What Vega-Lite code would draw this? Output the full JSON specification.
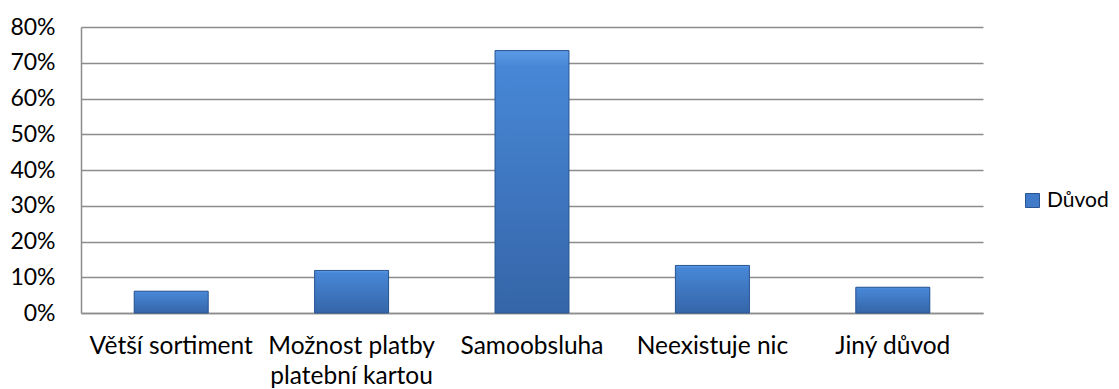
{
  "$schema": "https://vega.github.io/schema/vega-lite/v6.json",
  "autosize": {"type": "none"},
  "width": 902,
  "height": 286,
  "padding": {"left": 81, "top": 27, "right": 136, "bottom": 76},
  "background": "white",
  "config": {
    "font": "Lato",
    "view": {"stroke": null},
    "axis": {"labelFont": "Lato", "labelColor": "#000000"},
    "legend": {"labelFont": "Lato", "labelColor": "#000000"}
  },
  "data": {
    "values": [
      {"kategorie": "Větší sortiment", "podil": 0.061, "serie": "Důvod"},
      {"kategorie": "Možnost platby platební kartou", "podil": 0.119, "serie": "Důvod"},
      {"kategorie": "Samoobsluha", "podil": 0.734, "serie": "Důvod"},
      {"kategorie": "Neexistuje nic", "podil": 0.133, "serie": "Důvod"},
      {"kategorie": "Jiný důvod", "podil": 0.072, "serie": "Důvod"}
    ]
  },
  "encoding": {
    "x": {
      "field": "kategorie",
      "type": "nominal",
      "sort": null,
      "scale": {"paddingInner": 0.59, "paddingOuter": 0.295},
      "axis": {
        "title": null,
        "labelAngle": 0,
        "labelFontSize": 24.5,
        "labelPadding": 21,
        "labelLineHeight": 30,
        "labelBaseline": "top",
        "labelOverlap": false,
        "ticks": false,
        "domainColor": "#8c8c8c",
        "domainWidth": 1.5,
        "labelLimit": 400,
        "labelExpr": "datum.label == 'Možnost platby platební kartou' ? ['Možnost platby', 'platební kartou'] : datum.label"
      }
    },
    "y": {
      "field": "podil",
      "type": "quantitative",
      "scale": {"domain": [0, 0.8], "nice": false},
      "axis": {
        "title": null,
        "format": ".0%",
        "values": [0, 0.1, 0.2, 0.3, 0.4, 0.5, 0.6, 0.7, 0.8],
        "labelFontSize": 23,
        "labelPadding": 26,
        "labelOverlap": false,
        "ticks": false,
        "grid": true,
        "gridColor": "#8c8c8c",
        "gridWidth": 1.5,
        "domainColor": "#8c8c8c",
        "domainWidth": 1.5
      }
    }
  },
  "layer": [
    {
      "mark": {"type": "bar"},
      "encoding": {
        "color": {
          "field": "serie",
          "type": "nominal",
          "scale": {"range": ["#3f7bc8"]},
          "legend": {
            "title": null,
            "orient": "none",
            "legendX": 941,
            "legendY": 163,
            "symbolType": "square",
            "symbolSize": 196,
            "symbolStrokeColor": "#2a5591",
            "symbolStrokeWidth": 1,
            "labelFontSize": 21,
            "labelOffset": 4
          }
        }
      }
    },
    {
      "mark": {
        "type": "bar",
        "stroke": "#2a5591",
        "strokeWidth": 1,
        "color": {
          "gradient": "linear",
          "x1": 0, "y1": 0, "x2": 0, "y2": 1,
          "stops": [
            {"offset": 0, "color": "#5b9be6"},
            {"offset": 0.06, "color": "#4787d6"},
            {"offset": 1, "color": "#3565a8"}
          ]
        }
      }
    }
  ]
}
